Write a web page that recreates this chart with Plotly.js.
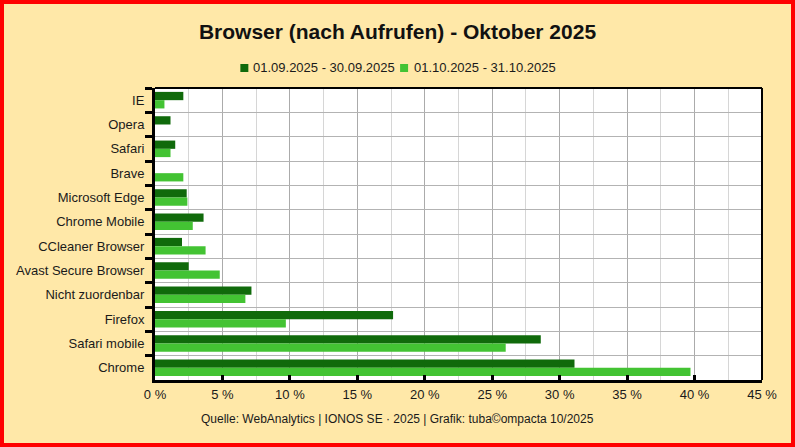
<!DOCTYPE html>
<html>
<head>
<meta charset="utf-8">
<script src="https://cdn.plot.ly/plotly-3.0.1.min.js"></script>
<style>
  html, body { margin: 0; padding: 0; background: #ffe8a8; }
  #chart { width: 795px; height: 447px; box-sizing: border-box; border: 4px solid #ff0000; background: #ffe8a8; }
</style>
</head>
<body>
<div id="chart"></div>
<script>
const categories = ["IE", "Opera", "Safari", "Brave", "Microsoft Edge", "Chrome Mobile",
  "CCleaner Browser", "Avast Secure Browser", "Nicht zuordenbar", "Firefox", "Safari mobile", "Chrome"];
const seriesNames = ["01.09.2025 - 30.09.2025", "01.10.2025 - 31.10.2025"];
const september = [2.1, 1.15, 1.5, 0, 2.35, 3.6, 2.0, 2.5, 7.15, 17.65, 28.6, 31.1];
const october   = [0.7, 0, 1.15, 2.1, 2.4, 2.8, 3.75, 4.8, 6.7, 9.7, 26.0, 39.7];
const xTicks = [0, 5, 10, 15, 20, 25, 30, 35, 40, 45];
const colors = ["#106a0b", "#43c333"];

const font = "Liberation Sans, Arial, sans-serif";
const traces = [
  { type: "bar", orientation: "h", name: seriesNames[0], y: categories, x: september,
    marker: { color: colors[0] }, hoverinfo: "x+y" },
  { type: "bar", orientation: "h", name: seriesNames[1], y: categories, x: october,
    marker: { color: colors[1] }, hoverinfo: "x+y" }
];

// plot-area geometry (page px) used only to place the manual legend / footer
const W = 787, H = 439, L = 150.5, R = 28.5, T = 84, B = 63;
const pw = W - L - R, ph = H - T - B;
const px = x => (x - 4 - L) / pw;          // page x -> paper x
const py = y => (H - B - (y - 4)) / ph;    // page y -> paper y

const legendItems = [
  { sq: 240, txt: 251 },
  { sq: 400, txt: 412 }
];
const legendY = 68;

const shapes = [
  { type: "line", xref: "paper", yref: "paper", x0: 0, x1: 1, y0: 1, y1: 1, line: { color: "#000", width: 2 } },
  { type: "line", xref: "paper", yref: "paper", x0: 1, x1: 1, y0: 0, y1: 1, line: { color: "#000", width: 2 } }
];
const annotations = [
  { text: "Quelle: WebAnalytics | IONOS SE · 2025 | Grafik: tuba©ompacta 10/2025",
    xref: "paper", yref: "paper", x: px(397), y: py(419),
    xanchor: "center", yanchor: "middle", showarrow: false, font: { size: 12, color: "#1a1a1a" } }
];
legendItems.forEach((it, i) => {
  shapes.push({ type: "rect", xref: "paper", yref: "paper",
    x0: px(it.sq), x1: px(it.sq + 8), y0: py(legendY + 4), y1: py(legendY - 4),
    fillcolor: colors[i], line: { width: 0 } });
  annotations.push({ text: seriesNames[i], xref: "paper", yref: "paper",
    x: px(it.txt), y: py(legendY), xanchor: "left", yanchor: "middle",
    showarrow: false, font: { size: 13, color: "#1a1a1a" } });
});

const layout = {
  width: W, height: H,
  paper_bgcolor: "#ffe8a8", plot_bgcolor: "#ffffff",
  margin: { l: L, r: R, t: T, b: B },
  font: { family: font, size: 13, color: "#1a1a1a" },
  title: { text: "<b>Browser (nach Aufrufen) - Oktober 2025</b>", font: { family: font, size: 21, color: "#111" },
    x: 0.5, xref: "container", y: 1 - 28 / 439, yref: "container", yanchor: "middle" },
  showlegend: false,
  barmode: "group", bargap: 0.32, bargroupgap: 0,
  xaxis: {
    range: [0, 45], tickvals: xTicks, ticktext: xTicks.map(v => v + " %"),
    ticks: "inside", ticklen: 5, tickwidth: 3, tickcolor: "#000",
    showline: true, linecolor: "#000", linewidth: 3,
    showgrid: true, gridcolor: "#ababab", gridwidth: 1,
    minor: { dtick: 2.5, tick0: 0, showgrid: true, gridcolor: "#d6d6d6", gridwidth: 1, ticks: "" },
    zeroline: false, fixedrange: true, tickfont: { size: 13 }
  },
  yaxis: {
    type: "category", autorange: "reversed", tickson: "boundaries",
    ticks: "outside", ticklen: 7, tickwidth: 3, tickcolor: "#000",
    showline: true, linecolor: "#000", linewidth: 3,
    showgrid: true, gridcolor: "#b3b3b3", gridwidth: 1,
    ticklabelstandoff: 5,
    zeroline: false, fixedrange: true, tickfont: { size: 13 }
  },
  shapes: shapes,
  annotations: annotations
};

Plotly.newPlot("chart", traces, layout, { displayModeBar: false, staticPlot: true });
</script>
</body>
</html>
